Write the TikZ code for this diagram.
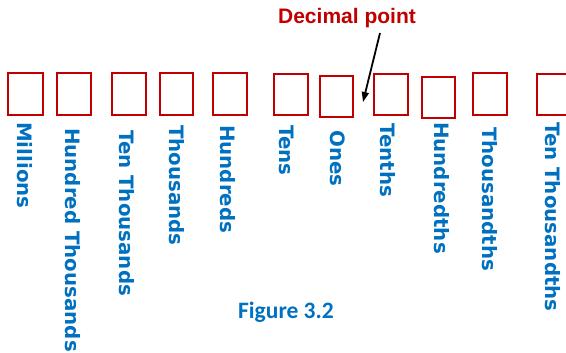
\documentclass[tikz,border=0pt]{standalone}
\usepackage{fontspec}
\setmainfont{DejaVu Sans}
\newfontfamily\arialfont{Liberation Sans}
\newfontfamily\calibrifont{Carlito}
\usetikzlibrary{arrows.meta}
\definecolor{placered}{HTML}{C00000}
\definecolor{placeblue}{HTML}{0070C0}
\tikzset{
  digitbox/.style={draw=placered, line width=1.6pt},
  placelabel/.style={rotate=-90, anchor=base west, inner sep=0pt, text=placeblue,
    font=\fontsize{19.8}{22}\selectfont\bfseries},
  pointer/.style={line width=1.8pt, -{Triangle[length=10pt,width=7pt]}}
}
\begin{document}
\begin{tikzpicture}[x=1pt,y=-1pt]
\useasboundingbox (0,0) rectangle (566,353);
% place-value boxes
\draw[digitbox] (8,73) rectangle (43,115);
\draw[digitbox] (57,73) rectangle (91,115);
\draw[digitbox] (112,73) rectangle (146,115);
\draw[digitbox] (160,73) rectangle (193,115);
\draw[digitbox] (213,73) rectangle (247,115);
\draw[digitbox] (274,74) rectangle (308,115);
\draw[digitbox] (320,76) rectangle (353,117);
\draw[digitbox] (374,74) rectangle (408,115);
\draw[digitbox] (422,77) rectangle (455,118);
\draw[digitbox] (473,73) rectangle (507,115);
\draw[digitbox] (537,74) rectangle (572,115);
% place names
\node[placelabel] (l1) at (17,122) {Millions};
\node[placelabel] (l2) at (65,128) {Hundred Thousands};
\node[placelabel] (l3) at (119,130) {Ten Thousands};
\node[placelabel] (l4) at (169,125) {Thousands};
\node[placelabel] (l5) at (220,125) {Hundreds};
\node[placelabel] (l6) at (279,125) {Tens};
\node[placelabel] (l7) at (330,130) {Ones};
\node[placelabel] (l8) at (380,123) {Tenths};
\node[placelabel] (l9) at (434,122) {Hundredths};
\node[placelabel] (l10) at (482,127) {Thousandths};
\node[placelabel] (l11) at (545,122) {Ten Thousandths};
% decimal point marker
\node[text=placered, font=\arialfont\fontsize{21}{23}\selectfont\bfseries] (dp) at (347,18) {Decimal point};
\coordinate (dptail) at (380,33);
\coordinate (dphead) at (363,102);
\draw[pointer] (dptail) -- (dphead);
% caption
\node[text=placeblue, font=\calibrifont\fontsize{23.5}{25}\selectfont\bfseries] (cap) at (286,312) {Figure 3.2};
\end{tikzpicture}
\end{document}
